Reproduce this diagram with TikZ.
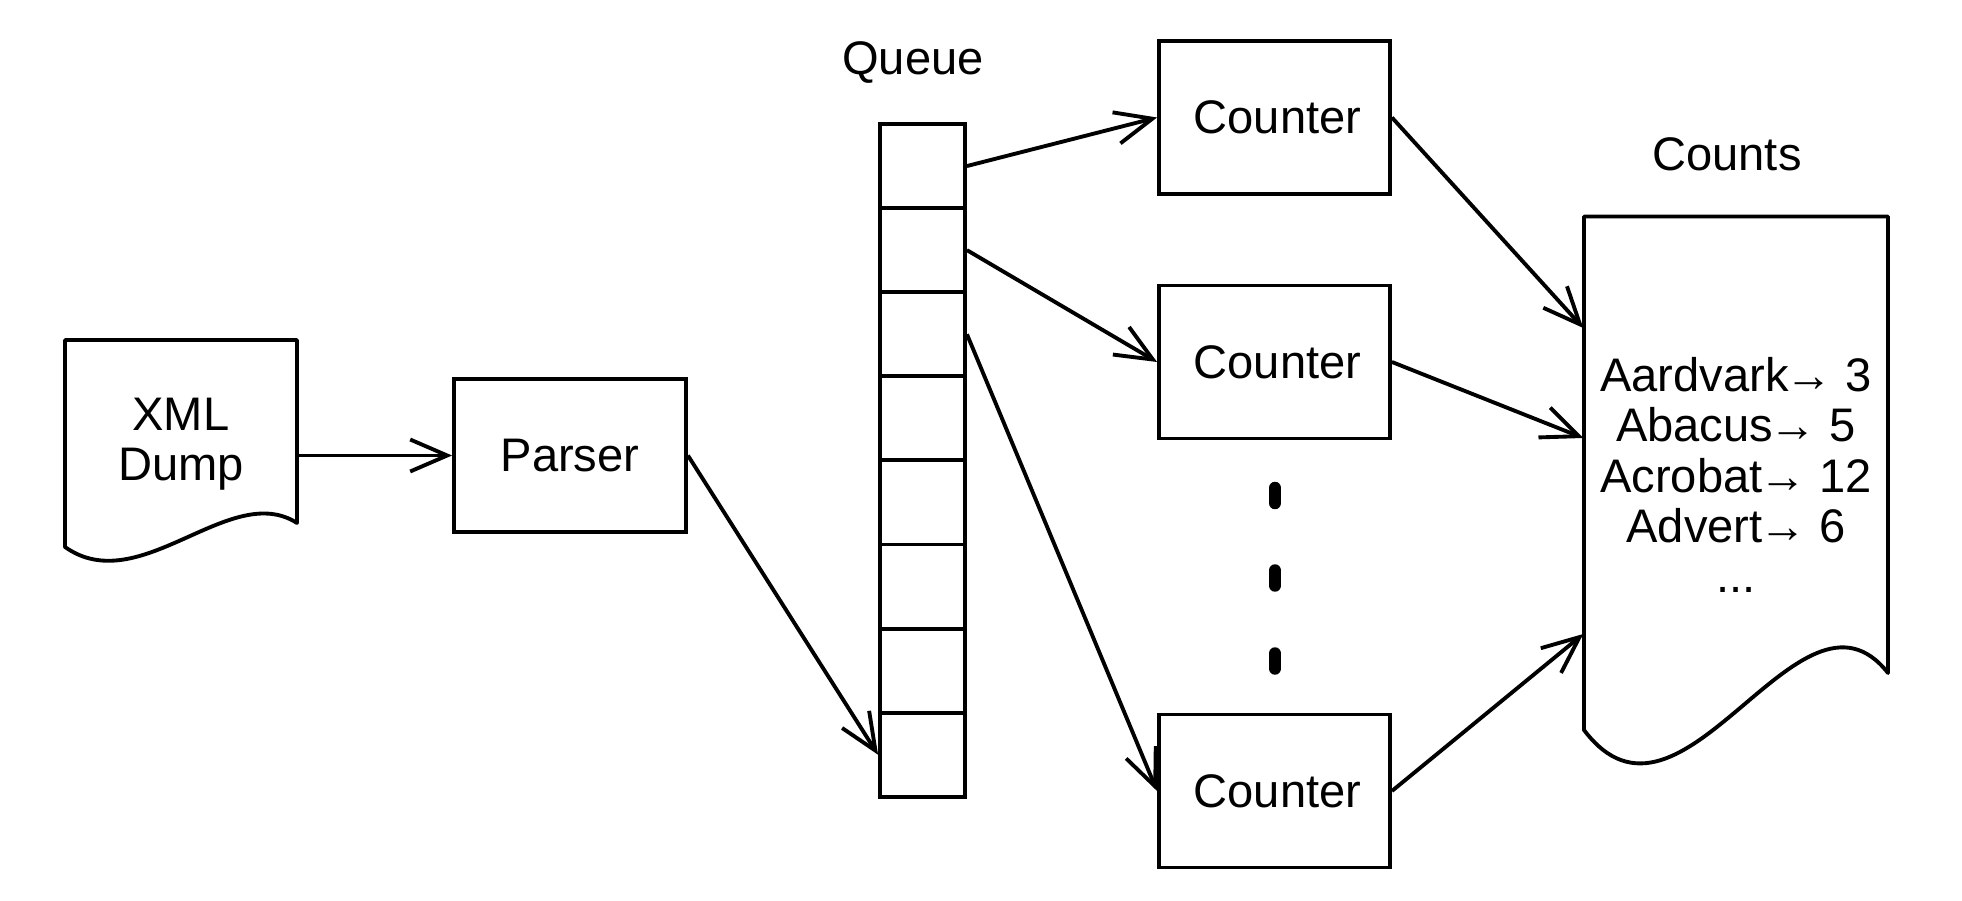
\documentclass[tikz,border=0pt]{standalone}
\usepackage{fontspec}
\setmainfont{Liberation Sans}
\usetikzlibrary{arrows.meta, positioning}

\begin{document}
\begin{tikzpicture}[
  font=\fontsize{13.4pt}{14.3pt}\selectfont,
  box/.style={rectangle, draw, line width=1.1pt, minimum width=2.31cm, minimum height=1.53cm},
  cell/.style={rectangle, draw, line width=1.1pt, minimum width=0.85cm, minimum height=0.841cm},
  doc/.style={draw, line width=1.1pt, line join=round},
  flow/.style={-{Straight Barb[length=3.7mm, width=3.2mm]}, line width=1.1pt},
  ellip/.style={line width=1.25mm, line cap=round}
]
\useasboundingbox (0,0) rectangle (19.62,9);

% Input page
\draw[doc] (0.65,5.60) -- (2.97,5.60) -- (2.97,3.77)
  .. controls (2.30,4.20) and (1.40,3.00) .. (0.65,3.53) -- cycle;
\node[align=center, minimum width=2.32cm] (xml) at (1.81,4.56) {XML\\Dump};

% Parser
\node[box, minimum width=2.32cm] (parser) at (5.70,4.445) {Parser};

% Queue
\foreach \i in {1,...,8}
  \node[cell] (q\i) at (9.225,{7.76-0.841*(\i-0.5)}) {};
\node (queuelbl) at (9.13,8.37) {Queue};

% Counters
\node[box] (c1) at (12.745,7.825) {\hspace*{0.6mm}Counter};
\node[box] (c2) at (12.745,5.38) {\hspace*{0.6mm}Counter};
\node[box] (c3) at (12.745,1.09) {\hspace*{0.6mm}Counter};
\foreach \y in {4.045,3.22,2.39}
  \draw[ellip] (12.75,{\y-0.075}) -- (12.75,{\y+0.075});

% Output page
\draw[doc] (15.84,6.835) -- (18.88,6.835) -- (18.88,2.27)
  .. controls (18.00,3.39) and (16.82,0.40) .. (15.84,1.70) -- cycle;
\node[align=center, minimum width=3.04cm] (counts) at (17.36,4.25)
  {Aardvark\kern-1pt→ 3\\Abacus\kern-1pt→ 5\\Acrobat\kern-1pt→ 12\\Advert\kern-1pt→ 6\\...};
\node (countslbl) at (17.27,7.46) {Counts};

% Connections
\draw[flow] (xml.east |- parser.west) -- (parser.west);
\draw[flow] (parser.east) -- (q8.west);
\draw[flow] (q1.east) -- (c1.west);
\draw[flow] (q2.east) -- (c2.west);
\draw[flow] (q3.east) -- (c3.west);
\draw[flow] (c1.east) -- ([yshift=1.47cm]counts.west);
\draw[flow] (c2.east) -- ([yshift=0.37cm]counts.west);
\draw[flow] (c3.east) -- ([yshift=-1.59cm]counts.west);

\end{tikzpicture}
\end{document}
